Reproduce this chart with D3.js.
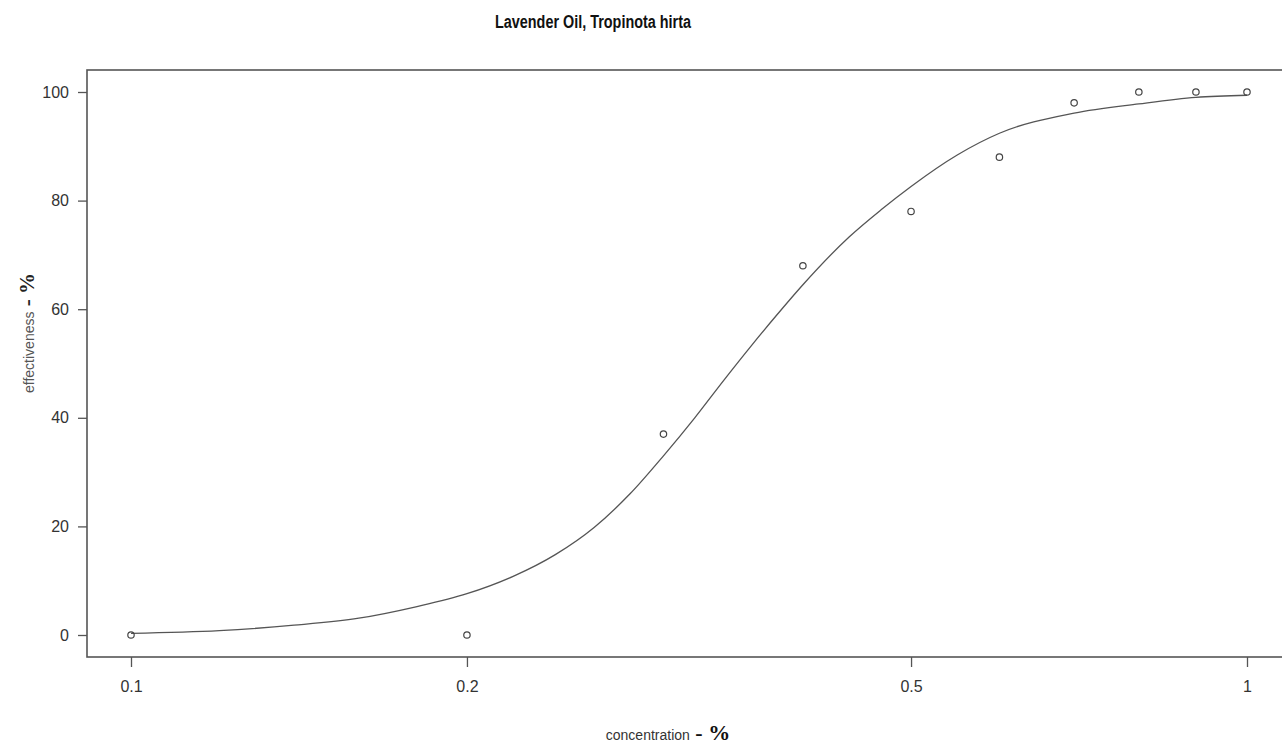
<!DOCTYPE html>
<html>
<head>
<meta charset="utf-8">
<script src="https://cdn.jsdelivr.net/npm/d3@7"></script>
<style>
  body { margin: 0; background: #fff; }
  svg { display: block; }
</style>
</head>
<body>
<div id="showBox"></div>
<script>
// observed points (concentration %, effectiveness %)
const concentration = [0.1, 0.2, 0.3, 0.4, 0.5, 0.6, 0.7, 0.8, 0.9, 1.0];
const effectiveness = [0, 0, 37, 68, 78, 88, 98, 100, 100, 100];

// fitted curve
const fitConc = [0.10, 0.12, 0.14, 0.16, 0.18, 0.20, 0.22, 0.24, 0.26, 0.28, 0.30, 0.32, 0.34, 0.36, 0.38, 0.40, 0.44, 0.47, 0.50, 0.55, 0.60, 0.70, 0.80, 0.90, 1.00];
const fitEff = [0.3, 0.8, 1.8, 3.1, 5.2, 7.6, 10.8, 14.8, 19.8, 26.0, 33.0, 40.0, 47.0, 53.4, 59.2, 64.5, 73.3, 78.3, 82.6, 88.4, 92.4, 96.1, 97.8, 99.0, 99.4];

const xTicks = [0.1, 0.2, 0.5, 1];
const yTicks = [0, 20, 40, 60, 80, 100];

const width = 1282, height = 746;
const box = {left: 87, right: 1292, top: 70, bottom: 657};
const sans = "'Liberation Sans', Arial, sans-serif";

const x = d3.scaleLog().domain([0.1, 1]).range([131, 1247]);
const y = d3.scaleLinear().domain([0, 100]).range([635, 92]);

const svg = d3.select("#showBox").append("svg")
    .attr("width", width)
    .attr("height", height);

// title (condensed like the original)
svg.append("text")
    .attr("x", 593)
    .attr("y", 28)
    .attr("text-anchor", "middle")
    .attr("font-family", sans)
    .attr("font-weight", "bold")
    .attr("font-size", 18)
    .attr("fill", "#111")
    .attr("textLength", 196)
    .attr("lengthAdjust", "spacingAndGlyphs")
    .text("Lavender Oil, Tropinota hirta");

// plot frame
svg.append("rect")
    .attr("x", box.left)
    .attr("y", box.top)
    .attr("width", box.right - box.left)
    .attr("height", box.bottom - box.top)
    .attr("fill", "none")
    .attr("stroke", "#555")
    .attr("stroke-width", 1.6);

// axes
const yAxis = svg.append("g")
    .attr("transform", `translate(${box.left},0)`)
    .call(d3.axisLeft(y).tickValues(yTicks).tickSize(9).tickPadding(9));

const xAxis = svg.append("g")
    .attr("transform", `translate(0,${box.bottom})`)
    .call(d3.axisBottom(x).tickValues(xTicks).tickSize(10).tickPadding(14)
        .tickFormat(d3.format("~g")));

[yAxis, xAxis].forEach(g => {
    g.select(".domain").remove();
    g.selectAll(".tick line").attr("stroke", "#555").attr("stroke-width", 1.3);
    g.selectAll(".tick text")
        .attr("font-family", sans)
        .attr("font-size", 16)
        .attr("fill", "#333");
});

// fitted curve
const line = d3.line()
    .x(d => x(d[0]))
    .y(d => y(d[1]))
    .curve(d3.curveMonotoneX);

svg.append("path")
    .datum(fitConc.map((c, i) => [c, fitEff[i]]))
    .attr("fill", "none")
    .attr("stroke", "#555")
    .attr("stroke-width", 1.3)
    .attr("d", line);

// observed points
svg.append("g")
    .selectAll("circle")
    .data(concentration.map((c, i) => [c, effectiveness[i]]))
    .join("circle")
    .attr("cx", d => x(d[0]))
    .attr("cy", d => y(d[1]))
    .attr("r", 3.2)
    .attr("fill", "none")
    .attr("stroke", "#444")
    .attr("stroke-width", 1.2);

// axis labels
const xlab = svg.append("text")
    .attr("x", 668)
    .attr("y", 740)
    .attr("text-anchor", "middle");
xlab.append("tspan")
    .attr("font-family", sans)
    .attr("font-size", 14)
    .attr("fill", "#333")
    .text("concentration");
xlab.append("tspan")
    .attr("font-family", "'Liberation Serif', serif")
    .attr("font-weight", "bold")
    .attr("font-size", 22)
    .attr("fill", "#111")
    .text(" - %");

const ylab = svg.append("text")
    .attr("transform", "translate(34,333) rotate(-90)")
    .attr("text-anchor", "middle");
ylab.append("tspan")
    .attr("font-family", sans)
    .attr("font-size", 14)
    .attr("fill", "#555")
    .text("effectiveness");
ylab.append("tspan")
    .attr("font-family", "'Liberation Serif', serif")
    .attr("font-weight", "bold")
    .attr("font-size", 21)
    .attr("fill", "#222")
    .text(" - %");
</script>
</body>
</html>
